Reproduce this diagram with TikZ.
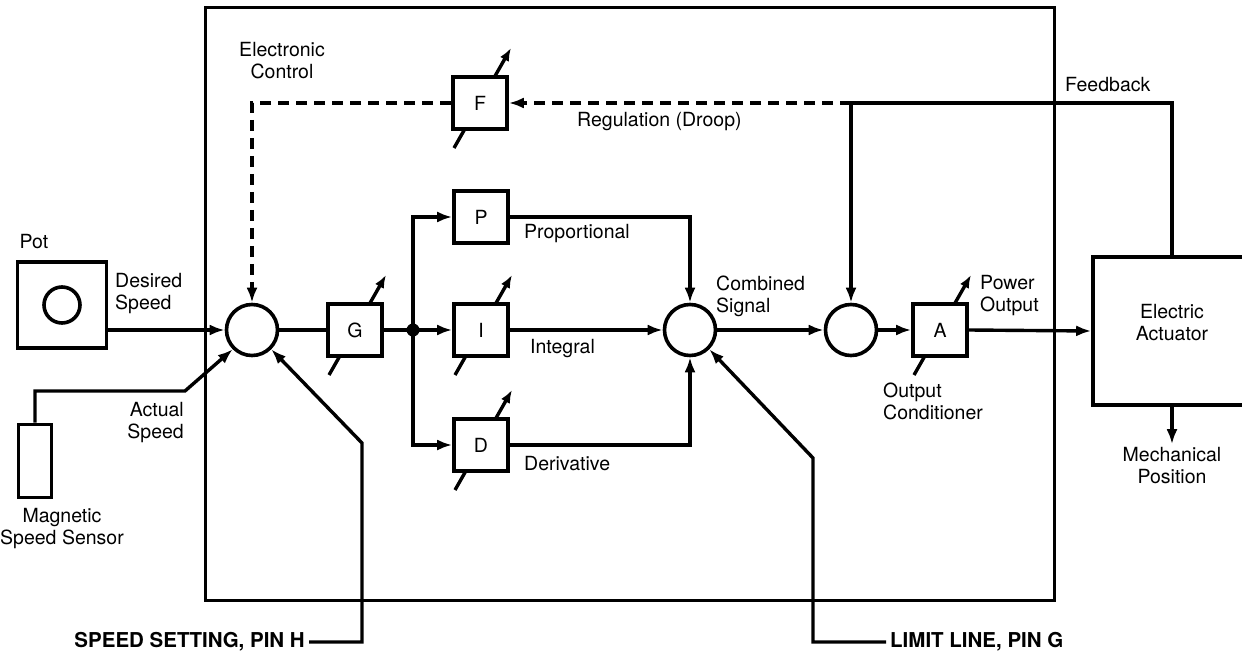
\documentclass[tikz,border=0pt]{standalone}
\usepackage{fontspec}
\setmainfont{TeX Gyre Heros}
\usetikzlibrary{arrows.meta, calc, backgrounds}

\tikzset{
  blk/.style={draw, line width=3.6pt, fill=white, minimum width=54pt, minimum height=52pt, inner sep=0pt},
  sumpt/.style={draw, circle, line width=3.6pt, fill=white, minimum size=51pt, inner sep=0pt},
  sig/.style={line width=3.4pt, -{Latex[length=15pt,width=11pt]}},
  wire/.style={line width=3.4pt},
  lbl/.style={align=left, inner sep=0pt},
  pinlbl/.style={font=\bfseries\fontsize{20.5}{24}\selectfont, inner sep=0pt},
  tunearrow/.style={line width=3.4pt, -{Latex[length=13pt,width=10pt]}},
  droopline/.style={dash pattern=on 11pt off 7pt},
}
\newcommand\tuneknob[1]{\scoped[on background layer]\draw[tunearrow] ($(#1.center)+(-26,45)$) -- ($(#1.center)+(31,-55)$);}

\begin{document}
\begin{tikzpicture}[x=1pt, y=-1pt, font=\fontsize{19.5}{22}\selectfont]
\useasboundingbox (0,0) rectangle (1242,660);
\clip (0,0) rectangle (1242,660);

% electronic control enclosure
\draw[line width=3pt] (205,8) rectangle (1054,600);
\node[align=center] (ectl) at (282,61) {Electronic\\Control};

% pot and speed sensor
\node[draw, line width=3.6pt, minimum width=89pt, minimum height=86pt] (pot) at (62,305) {};
\node[draw, circle, line width=3.6pt, minimum size=36pt] (knob) at (pot.center) {};
\node (potlbl) at (34,242) {Pot};
\node[lbl, anchor=west] (desired) at (115,294) {Desired\\Speed};
\node[draw, line width=3.6pt, minimum width=33pt, minimum height=73pt] (sensor) at (35,461) {};
\node[lbl, align=right, anchor=east] (actual) at (184,423) {Actual\\Speed};
\node[align=center] (maglbl) at (62,529) {Magnetic\\Speed Sensor};

% summing points and blocks
\node[sumpt] (sum1) at (252,330) {};
\node[blk] (G) at (355,330) {G};
\coordinate (split) at (413,330);
\fill (split) circle (6.5);
\node[blk] (P) at (481,217) {P};
\node[blk] (I) at (481,330) {I};
\node[blk] (D) at (481,445) {D};
\node[sumpt] (sum2) at (690,330) {};
\node[sumpt] (sum3) at (851,330) {};
\node[blk] (A) at (940,330) {A};
\node[blk] (F) at (480,103) {F};
\node[draw, line width=3.6pt, minimum width=158pt, minimum height=148pt] (act) at (1172,331) {};
\node[align=center] (actlbl) at (1172,323) {Electric\\Actuator};

% adjustable gains
\tuneknob{F}
\tuneknob{G}
\tuneknob{I}
\tuneknob{D}
\tuneknob{A}

% labels
\node[lbl, anchor=west] (prop) at (524,234) {Proportional};
\node[lbl, anchor=west] (integ) at (530,349) {Integral};
\node[lbl, anchor=west] (deriv) at (524,464) {Derivative};
\node[lbl, anchor=west] (comb) at (716,296) {Combined\\Signal};
\node[lbl, anchor=west] (pwr) at (980,296) {Power\\Output};
\node[lbl, anchor=west] (cond) at (883,401) {Output\\Conditioner};
\node[lbl, anchor=west] (droop) at (577,122) {Regulation (Droop)};
\node[lbl, anchor=west] (fblbl) at (1065,85) {Feedback};
\node[align=center] (mech) at (1172,466) {Mechanical\\Position};
\node[pinlbl, anchor=east] (pinH) at (305,642) {SPEED SETTING, PIN H};
\node[pinlbl, anchor=west] (pinG) at (890,642) {LIMIT LINE, PIN G};

% inputs
\draw[sig] (pot.east |- sum1.west) -- (sum1.west);
\coordinate (bendA) at (185,391);
\draw[sig] (sensor.north) |- (bendA) -- (sum1.225);
\coordinate (bendH) at (362,443);
\draw[sig] ([xshift=4pt]pinH.east) -| (bendH) -- (sum1.-45);

% PID paths
\draw[wire] (sum1.east) -- (G.west);
\draw[wire] (G.east) -- (split);
\draw[sig] (split) -- (I.west);
\draw[sig] (split) |- (P.west);
\draw[sig] (split) |- (D.west);
\draw[sig] (P.east) -| (sum2.north);
\draw[sig] (I.east) -- (sum2.west);
\draw[sig] (D.east) -| (sum2.south);
\coordinate (bendG) at (813,458);
\draw[sig] ([xshift=-4pt]pinG.west) -| (bendG) -- (sum2.-45);

% output stage
\draw[sig] (sum2.east) -- (sum3.west);
\draw[sig] (sum3.east) -- (A.west);
\draw[sig] (A.east) -- (act.west);
\draw[sig] (act.south) -- (mech.north);

% feedback and droop
\coordinate (fbtap) at (851,103);
\draw[sig] (act.north) |- (fbtap) -- (sum3.north);
\draw[sig, droopline] (fbtap) -- (F.east);
\draw[sig, droopline] (F.west) -| (sum1.north);

\end{tikzpicture}
\end{document}
